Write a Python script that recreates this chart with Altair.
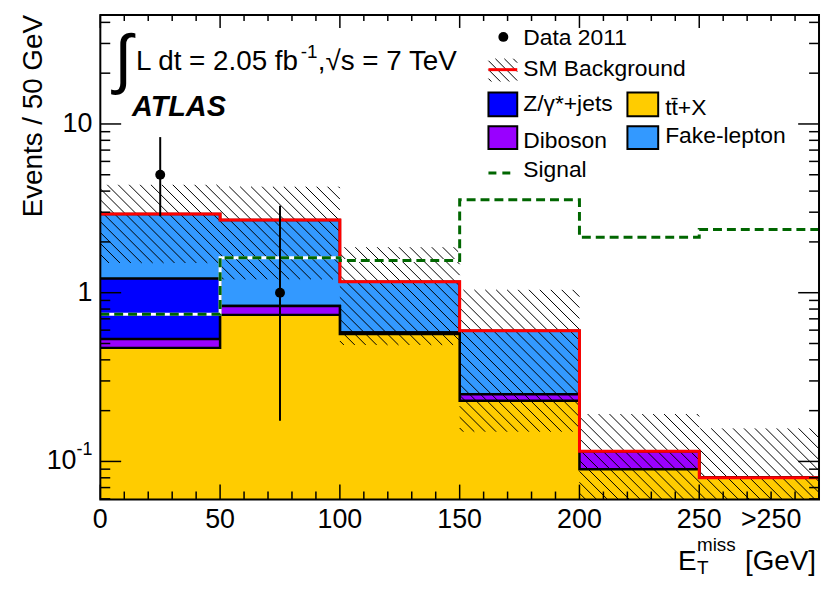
import altair as alt
import numpy as np
import pandas as pd

# ---------------- data ----------------
bin_lo = [0, 50, 100, 150, 200, 250]
bin_hi = [50, 100, 150, 200, 250, 300]
ttbar = [0.471, 0.739, 0.570, 0.229, 0.090, 0.080]
diboson = [0.061, 0.096, 0.012, 0.021, 0.025, 0.0]
zjets = [0.683, 0.0, 0.0, 0.0, 0.0, 0.0]
fake = [1.715, 1.865, 0.578, 0.345, 0.0, 0.0]
band_lo = [1.50, 1.20, 0.49, 0.15, 0.039, 0.003]
band_hi = [4.36, 4.25, 1.86, 1.04, 0.191, 0.157]
signal = [0.746, 1.61, 1.55, 3.56, 2.13, 2.37]
data_x = [25, 75]
data_y = [5.0, 1.0]
data_lo = [2.84, 0.174]
data_hi = [8.36, 3.28]

x_tick_vals = [0, 50, 100, 150, 200, 250, 280]
x_tick_text = ["0", "50", "100", "150", "200", "250", ">250"]

# ---------------- layout / style ----------------
YMIN, YMAX = 0.0595, 44.2
XMAX = 300
W, H = 724, 488
FONT = "Liberation Sans"
C_TT, C_DB, C_Z, C_FK = "#FFCC00", "#9900FF", "#0000FF", "#3399FF"
C_SIG = "#006600"

xs = alt.Scale(domain=[0, XMAX], nice=False, zero=False)
ys = alt.Scale(type="log", domain=[YMIN, YMAX], nice=False)


def X(f):
    return alt.X(f, type="quantitative", scale=xs, axis=None)


def Y(f):
    return alt.Y(f, type="quantitative", scale=ys, axis=None)


def PX(f):
    return alt.X(f, type="quantitative", scale=None)


def PY(f):
    return alt.Y(f, type="quantitative", scale=None)


L0, L1 = np.log10(YMIN), np.log10(YMAX)


def to_py(y):
    return H * (L1 - np.log10(y)) / (L1 - L0)


def from_px(px, py):
    return px * XMAX / W, 10 ** (L1 - py / H * (L1 - L0))


def hatch_segments(x0, x1, yt, yb, step=11):
    segs = []
    for c in range(-1200, 1200, step):
        a = max(x0, yt - c)
        b = min(x1, yb - c)
        if b > a:
            segs.append((a, a + c, b, b + c))
    return segs


layers = []

# stacked histogram (cumulative, drawn from top of stack down)
c1 = np.array(ttbar)
c2 = c1 + np.array(diboson)
c3 = c2 + np.array(zjets)
c4 = c3 + np.array(fake)
edges = bin_lo + [bin_hi[-1]]
for cum, col in [(c4, C_FK), (c3, C_Z), (c2, C_DB), (c1, C_TT)]:
    st = pd.DataFrame({"x": edges, "y": list(cum) + [cum[-1]], "bot": [YMIN * 0.5] * 7})
    layers.append(alt.Chart(st).mark_area(interpolate="step-after", color=col, opacity=1,
                                          clip=True).encode(x=X("x"), y=Y("y"), y2="bot"))
    layers.append(alt.Chart(st).mark_line(interpolate="step-after", color="black",
                                          strokeWidth=2.5, clip=True).encode(x=X("x"), y=Y("y")))

# hatched uncertainty band
rows = []
for lo, hi, blo, bhi in zip(bin_lo, bin_hi, band_lo, band_hi):
    x0, x1 = lo * W / XMAX, hi * W / XMAX
    yt, yb = to_py(bhi), to_py(max(blo, YMIN))
    for a, ya, b, yb2 in hatch_segments(x0, x1, yt, yb):
        xa, va = from_px(a, ya)
        xb, vb = from_px(b, yb2)
        rows.append({"x": xa, "y": va, "x2": xb, "y2": vb})
hdf = pd.DataFrame(rows)
layers.append(alt.Chart(hdf).mark_rule(color="black", strokeWidth=1, clip=True).encode(
    x=X("x"), y=Y("y"), x2="x2", y2="y2"))

# SM total (red)
tot = pd.DataFrame({"x": edges, "y": list(c4) + [c4[-1]]})
layers.append(alt.Chart(tot).mark_line(interpolate="step-after", color="#FF0000",
                                       strokeWidth=3, clip=True).encode(x=X("x"), y=Y("y")))

# signal
sig = pd.DataFrame({"x": edges, "y": signal + [signal[-1]]})
layers.append(alt.Chart(sig).mark_line(interpolate="step-after", color="white",
                                       strokeWidth=3, clip=True).encode(x=X("x"), y=Y("y")))
layers.append(alt.Chart(sig).mark_line(interpolate="step-after", color=C_SIG,
                                       strokeWidth=3, strokeDash=[9, 5], clip=True).encode(x=X("x"), y=Y("y")))

# data
ddf = pd.DataFrame({"x": data_x, "y": data_y, "lo": data_lo, "hi": data_hi})
layers.append(alt.Chart(ddf).mark_rule(color="black", strokeWidth=2).encode(
    x=X("x"), y=Y("lo"), y2="hi"))
layers.append(alt.Chart(ddf).mark_point(filled=True, color="black", size=100, opacity=1).encode(
    x=X("x"), y=Y("y")))

# ticks (ROOT style, inward on all four sides)
xmaj = list(range(0, 301, 50))
xmin_ = [v for v in range(0, 301, 10) if v % 50]
ymaj = [0.1, 1, 10]
ymin_ = [m * 10.0 ** d for d in range(-2, 2) for m in range(2, 10) if YMIN <= m * 10.0 ** d <= YMAX]
for vals, ln_b, ln_t in [(xmaj, 15, 13), (xmin_, 8, 6)]:
    tdf = pd.DataFrame({"v": vals})
    layers.append(alt.Chart(tdf).mark_rule(color="black", strokeWidth=1.5).encode(
        x=X("v"), y=alt.value(H), y2=alt.value(H - ln_b)))
    layers.append(alt.Chart(tdf).mark_rule(color="black", strokeWidth=1.5).encode(
        x=X("v"), y=alt.value(0), y2=alt.value(ln_t)))
for vals, ln in [(ymaj, 21), (ymin_, 10)]:
    tdf = pd.DataFrame({"v": vals})
    layers.append(alt.Chart(tdf).mark_rule(color="black", strokeWidth=1.5).encode(
        y=Y("v"), x=alt.value(0), x2=alt.value(ln)))
    layers.append(alt.Chart(tdf).mark_rule(color="black", strokeWidth=1.5).encode(
        y=Y("v"), x=alt.value(W), x2=alt.value(W - ln)))

# frame
layers.append(alt.Chart(pd.DataFrame({"a": [0]})).mark_rect(
    filled=False, stroke="black", strokeWidth=2).encode(
    x=alt.value(0), x2=alt.value(W), y=alt.value(0), y2=alt.value(H)))

# tick labels
xl = pd.DataFrame({"v": x_tick_vals, "t": x_tick_text})
layers.append(alt.Chart(xl).mark_text(font=FONT, fontSize=27, align="center", baseline="alphabetic").encode(
    x=X("v"), y=alt.value(H + 29), text="t"))
yl = pd.DataFrame({"v": [10, 1], "t": ["10", "1"]})
layers.append(alt.Chart(yl).mark_text(font=FONT, fontSize=27, align="right", baseline="middle").encode(
    y=Y("v"), x=alt.value(-8), text="t"))
layers.append(alt.Chart(pd.DataFrame({"v": [0.1], "t": ["10"]})).mark_text(
    font=FONT, fontSize=27, align="right", baseline="middle").encode(y=Y("v"), x=alt.value(-24), text="t"))
layers.append(alt.Chart(pd.DataFrame({"v": [0.1], "t": ["-1"]})).mark_text(
    font=FONT, fontSize=18, align="right", baseline="middle", dy=-11).encode(y=Y("v"), x=alt.value(-8), text="t"))

# text annotations (pixel positions inside chart)
def texts(rows, **kw):
    df = pd.DataFrame(rows, columns=["px", "py", "t"])
    return alt.Chart(df).mark_text(font=FONT, baseline="alphabetic", **kw).encode(
        x=PX("px"), y=PY("py"), text="t")

layers.append(texts([(-59, 0, "Events / 50 GeV")], fontSize=28, align="right", angle=270))
layers.append(texts([(582, 559, "E")], fontSize=28, align="left"))
layers.append(texts([(601, 540, "miss")], fontSize=19, align="left"))
layers.append(texts([(601, 563, "T")], fontSize=19, align="left"))
layers.append(texts([(721, 559, "[GeV]")], fontSize=28, align="right"))

layers.append(texts([(14, 66, "∫")], fontSize=66, align="left"))
layers.append(texts([(36, 55, "L dt = 2.05 fb")], fontSize=28, align="left"))
layers.append(texts([(202, 43, "-1")], fontSize=19, align="left"))
layers.append(texts([(219, 55, ",√s = 7 TeV")], fontSize=28, align="left"))
layers.append(texts([(32, 102, "ATLAS")], fontSize=29, align="left", fontWeight="bold", fontStyle="italic"))

# legend
leg_text = [(426, 30, "Data 2011"), (426, 61, "SM Background"), (426, 97, "Z/γ*+jets"),
            (569, 101, "tt\u0304+X"), (426, 134, "Diboson"), (569, 129, "Fake-lepton"),
            (426, 163, "Signal")]
layers.append(texts(leg_text, fontSize=23, align="left"))
layers.append(alt.Chart(pd.DataFrame({"px": [406], "py": [22]})).mark_point(
    filled=True, color="black", size=100, opacity=1).encode(x=PX("px"), y=PY("py")))
boxes = pd.DataFrame({
    "x": [391, 531, 391, 531], "x2": [420, 562, 420, 562],
    "y": [78, 78, 112, 112], "y2": [102, 102, 135, 135],
    "c": [C_Z, C_TT, C_DB, C_FK]})
layers.append(alt.Chart(boxes).mark_rect(stroke="black", strokeWidth=2).encode(
    x=PX("x"), x2="x2", y=PY("y"), y2="y2", fill=alt.Fill("c:N", scale=None)))
lh = pd.DataFrame([{"x": a, "y": ya, "x2": b, "y2": yb}
                   for a, ya, b, yb in hatch_segments(391, 420, 44, 67, step=9)])
layers.append(alt.Chart(lh).mark_rule(color="black", strokeWidth=1).encode(
    x=PX("x"), y=PY("y"), x2="x2", y2="y2"))
layers.append(alt.Chart(pd.DataFrame({"x": [391], "x2": [420], "y": [55]})).mark_rule(
    color="#FF0000", strokeWidth=3).encode(x=PX("x"), x2="x2", y=PY("y")))
layers.append(alt.Chart(pd.DataFrame({"x": [391], "x2": [415], "y": [159]})).mark_rule(
    color=C_SIG, strokeWidth=3, strokeDash=[8, 6]).encode(x=PX("x"), x2="x2", y=PY("y")))

chart = alt.layer(*layers).properties(
    width=W, height=H,
    padding={"left": 93, "top": 5, "right": 2, "bottom": 80},
    autosize=alt.AutoSizeParams(type="none"),
    background="white",
).configure_view(stroke=None)

chart.save("out.html", embed_options={"renderer": "svg", "actions": False})
